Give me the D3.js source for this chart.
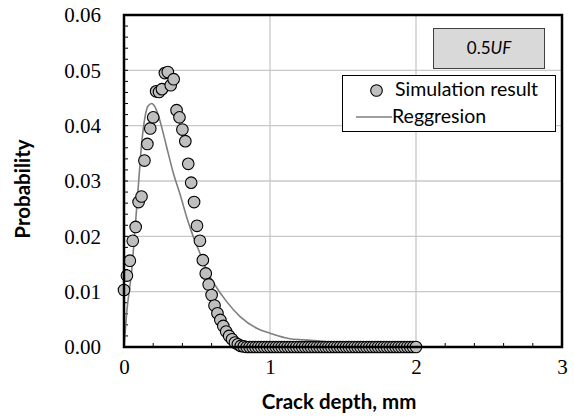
<!DOCTYPE html>
<html>
<head>
<meta charset="utf-8">
<script src="https://cdn.jsdelivr.net/npm/d3@7"></script>
<style>
  html, body { margin: 0; padding: 0; background: #fff; }
  svg { display: block; }
</style>
</head>
<body>
<svg id="chart" width="574" height="418"></svg>
<script>
// Crack depth (mm) of each simulated bin
const depths = [
  0.00, 0.02, 0.04, 0.06, 0.08, 0.10, 0.12, 0.14, 0.16, 0.18,
  0.20, 0.22, 0.24, 0.26, 0.28, 0.30, 0.32, 0.34, 0.36, 0.38,
  0.40, 0.42, 0.44, 0.46, 0.48, 0.50, 0.52, 0.54, 0.56, 0.58,
  0.60, 0.62, 0.64, 0.66, 0.68, 0.70, 0.72, 0.74, 0.76, 0.78,
  0.80, 0.82, 0.84, 0.86, 0.88, 0.90, 0.92, 0.94, 0.96, 0.98,
  1.00, 1.02, 1.04, 1.06, 1.08, 1.10, 1.12, 1.14, 1.16, 1.18,
  1.20, 1.22, 1.24, 1.26, 1.28, 1.30, 1.32, 1.34, 1.36, 1.38,
  1.40, 1.42, 1.44, 1.46, 1.48, 1.50, 1.52, 1.54, 1.56, 1.58,
  1.60, 1.62, 1.64, 1.66, 1.68, 1.70, 1.72, 1.74, 1.76, 1.78,
  1.80, 1.82, 1.84, 1.86, 1.88, 1.90, 1.92, 1.94, 1.96, 1.98,
  2.00
];

// Simulated probability of each bin
const simulated = [
  0.0103, 0.0129, 0.0156, 0.0192, 0.0217, 0.0262, 0.0272, 0.0337, 0.0367, 0.0395,
  0.0415, 0.0462, 0.0461, 0.0466, 0.0495, 0.0497, 0.0473, 0.0484, 0.0428, 0.0415,
  0.0393, 0.0372, 0.0331, 0.0297, 0.0262, 0.0219, 0.0192, 0.0157, 0.0133, 0.0113,
  0.0094, 0.0075, 0.0061, 0.0049, 0.0038, 0.0028, 0.0020, 0.0014, 0.0008, 0.0005,
  0.0002, 0.0001, 0.0000, 0.0000, 0.0000, 0.0000, 0.0000, 0.0000, 0.0000, 0.0000,
  0.0000, 0.0000, 0.0000, 0.0000, 0.0000, 0.0000, 0.0000, 0.0000, 0.0000, 0.0000,
  0.0000, 0.0000, 0.0000, 0.0000, 0.0000, 0.0000, 0.0000, 0.0000, 0.0000, 0.0000,
  0.0000, 0.0000, 0.0000, 0.0000, 0.0000, 0.0000, 0.0000, 0.0000, 0.0000, 0.0000,
  0.0000, 0.0000, 0.0000, 0.0000, 0.0000, 0.0000, 0.0000, 0.0000, 0.0000, 0.0000,
  0.0000, 0.0000, 0.0000, 0.0000, 0.0000, 0.0000, 0.0000, 0.0000, 0.0000, 0.0000,
  0.0000
];

// Fitted regression curve
const regDepths = [
  0.000, 0.018, 0.053, 0.075, 0.098, 0.121, 0.144, 0.166, 0.190, 0.212,
  0.235, 0.269, 0.303, 0.338, 0.384, 0.429, 0.475, 0.521, 0.566, 0.623,
  0.703, 0.795, 0.909, 1.000, 1.137, 1.228, 1.320, 1.500, 1.750, 2.000
];
const regProb = [
  0.0000, 0.0061, 0.0139, 0.0211, 0.0290, 0.0368, 0.0416, 0.0436, 0.0440, 0.0434,
  0.0419, 0.0386, 0.0350, 0.0314, 0.0276, 0.0235, 0.0199, 0.0169, 0.0139, 0.0112,
  0.0082, 0.0055, 0.0034, 0.0025, 0.0015, 0.0013, 0.0011, 0.0006, 0.0003, 0.0002
];

const xTicks = [0, 1, 2, 3];
const yTicks = [0, 0.01, 0.02, 0.03, 0.04, 0.05, 0.06];
const xLabel = "Crack depth, mm";
const yLabel = "Probability";
const caseLabel = ["0.5", "UF"];
const seriesNames = ["Simulation result", "Reggresion"];

const svg = d3.select("#chart");
const plot = { left: 124, right: 562, top: 15, bottom: 347 };
const sans = "Lato, 'Liberation Sans', sans-serif";
const serif = "'Liberation Serif', 'DejaVu Serif', serif";

const x = d3.scaleLinear().domain([0, 3]).range([plot.left, plot.right]);
const y = d3.scaleLinear().domain([0, 0.06]).range([plot.bottom, plot.top]);

// gridlines
const grid = svg.append("g");
grid.selectAll(".hg").data(yTicks.slice(1, -1)).join("line")
  .attr("x1", plot.left).attr("x2", plot.right)
  .attr("y1", d => y(d)).attr("y2", d => y(d))
  .attr("stroke", "#c8c8c8").attr("stroke-width", 1.3);
grid.selectAll(".vg").data(xTicks.slice(1, -1)).join("line")
  .attr("x1", d => x(d)).attr("x2", d => x(d))
  .attr("y1", plot.top).attr("y2", plot.bottom)
  .attr("stroke", "#c8c8c8").attr("stroke-width", 1.3);

// minor inward ticks
const yMinor = d3.range(0, 31).map(i => i * 0.002);
svg.append("g").selectAll("line").data(yMinor).join("line")
  .attr("x1", plot.left).attr("x2", plot.left + 4)
  .attr("y1", d => y(d)).attr("y2", d => y(d))
  .attr("stroke", "#000").attr("stroke-width", 1);
const xMinor = d3.range(0, 16).map(i => i * 0.2);
svg.append("g").selectAll("line").data(xMinor).join("line")
  .attr("x1", d => x(d)).attr("x2", d => x(d))
  .attr("y1", plot.bottom).attr("y2", plot.bottom - 4)
  .attr("stroke", "#000").attr("stroke-width", 1);

// axes with tick labels
const xAxis = d3.axisBottom(x).tickValues(xTicks).tickSize(0).tickPadding(12)
  .tickFormat(d3.format("d"));
const gx = svg.append("g").attr("transform", `translate(0,${plot.bottom})`).call(xAxis)
  .attr("font-family", serif).attr("font-size", 21);
gx.select(".domain").remove();
gx.selectAll("text").attr("fill", "#000");

const yAxis = d3.axisLeft(y).tickValues(yTicks).tickSize(0).tickPadding(23)
  .tickFormat(d3.format(".2f"));
const gy = svg.append("g").attr("transform", `translate(${plot.left},0)`).call(yAxis)
  .attr("font-family", serif).attr("font-size", 21);
gy.select(".domain").remove();
gy.selectAll("text").attr("fill", "#000");

// regression line
const line = d3.line().x(d => x(d[0])).y(d => y(d[1])).curve(d3.curveMonotoneX);
svg.append("path")
  .datum(regDepths.map((d, i) => [d, regProb[i]]))
  .attr("d", line)
  .attr("fill", "none").attr("stroke", "#7f7f7f").attr("stroke-width", 1.6);

// simulation markers
svg.append("g").selectAll("circle")
  .data(depths.map((d, i) => [d, simulated[i]]))
  .join("circle")
  .attr("cx", d => x(d[0])).attr("cy", d => y(d[1]))
  .attr("r", 5.8)
  .attr("fill", "#bfbfbf").attr("stroke", "#000").attr("stroke-width", 1.1);

// frame
svg.append("rect")
  .attr("x", plot.left).attr("y", plot.top)
  .attr("width", plot.right - plot.left).attr("height", plot.bottom - plot.top)
  .attr("fill", "none").attr("stroke", "#000").attr("stroke-width", 2.5);

// axis titles
svg.append("text")
  .attr("x", 339).attr("y", 409)
  .attr("text-anchor", "middle")
  .style("font-family", sans)
  .style("font-weight", "bold").style("font-size", "20.5px")
  .text(xLabel);
svg.append("text")
  .attr("transform", "translate(30,189) rotate(-90)")
  .attr("text-anchor", "middle")
  .style("font-family", sans)
  .style("font-weight", "bold").style("font-size", "20.5px")
  .text(yLabel);

// case label box
svg.append("rect")
  .attr("x", 433.5).attr("y", 28.5).attr("width", 111).attr("height", 40)
  .attr("fill", "#d9d9d9").attr("stroke", "#404040").attr("stroke-width", 1);
const cl = svg.append("text")
  .attr("x", 489).attr("y", 54)
  .attr("text-anchor", "middle")
  .style("font-family", sans)
  .style("font-size", "17px");
cl.append("tspan").text(caseLabel[0]);
cl.append("tspan").style("font-style", "italic").text(caseLabel[1]);

// legend
const lg = svg.append("g");
lg.append("rect")
  .attr("x", 342.5).attr("y", 75.5).attr("width", 213).attr("height", 56)
  .attr("fill", "#fff").attr("stroke", "#000").attr("stroke-width", 1);
lg.append("circle")
  .attr("cx", 376.5).attr("cy", 90.5).attr("r", 5.8)
  .attr("fill", "#bfbfbf").attr("stroke", "#000").attr("stroke-width", 1.1);
lg.append("text")
  .attr("x", 395).attr("y", 96)
  .style("font-family", sans)
  .style("font-size", "19.5px")
  .text(seriesNames[0]);
lg.append("line")
  .attr("x1", 356).attr("x2", 392).attr("y1", 117).attr("y2", 117)
  .attr("stroke", "#7f7f7f").attr("stroke-width", 1.6);
lg.append("text")
  .attr("x", 392).attr("y", 123)
  .style("font-family", sans)
  .style("font-size", "19.5px")
  .text(seriesNames[1]);
</script>
</body>
</html>
